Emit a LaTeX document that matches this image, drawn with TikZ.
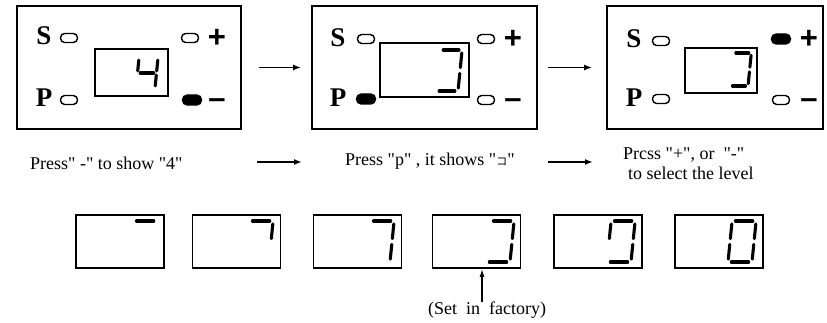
\documentclass[tikz,border=0pt]{standalone}
\usepackage{fontspec}
\setmainfont{Liberation Serif}[Ligatures=TeXOff]
\newfontfamily\sansb{Liberation Sans}
\newfontfamily\jpfont{Noto Sans CJK JP}
\usetikzlibrary{arrows.meta}
\tikzset{
  panel/.style={draw, line width=1.8pt, minimum height=123pt, inner sep=0pt},
  lcd/.style={draw, line width=1.4pt, inner sep=0pt},
  smallbox/.style={draw, line width=1.8pt, minimum width=88pt, minimum height=53pt, inner sep=0pt},
  led/.style={draw, line width=1.4pt, rounded corners=4.2pt, minimum width=17pt, minimum height=9pt, inner sep=0pt},
  ledon/.style={led, fill=black, minimum width=19pt, minimum height=10pt, rounded corners=4.8pt},
  seg/.style={line width=3.1pt, line cap=round},
  arr/.style={line width=1.7pt, -{Latex[length=8pt,width=6pt]}},
  sp/.style={font=\bfseries\fontsize{27}{27}\selectfont, inner sep=0pt},
  pm/.style={font=\sansb\bfseries\fontsize{31}{31}\selectfont, inner sep=0pt},
  captext/.style={font=\fontsize{18}{20}\selectfont, inner sep=0pt, anchor=west},
}
\newcommand\dgseg[4]{\draw[seg] ({\dX+(#1)*\dW+\dS*(#2)*\dH},{\dY-(#2)*\dH}) -- ({\dX+(#3)*\dW+\dS*(#4)*\dH},{\dY-(#4)*\dH});}
\def\gu{0.14}
\def\gv{0.07}
\newcommand\sgA{\dgseg{\gu}{1}{1-\gu}{1}}
\newcommand\sgB{\dgseg{1}{1-\gv}{1}{0.5+\gv}}
\newcommand\sgC{\dgseg{1}{0.5-\gv}{1}{\gv}}
\newcommand\sgD{\dgseg{\gu}{0}{1-\gu}{0}}
\newcommand\sgE{\dgseg{0}{0.5-\gv}{0}{\gv}}
\newcommand\sgF{\dgseg{0}{1-\gv}{0}{0.5+\gv}}
\newcommand\sgG{\dgseg{\gu}{0.5}{1-\gu}{0.5}}
% x(bottom-left) ybottom width height slant list
\newcommand\sevdigit[6]{%
  \def\dX{#1}\def\dY{#2}\def\dW{#3}\def\dH{#4}\def\dS{#5}%
  \foreach \sx in {#6}{\csname sg\sx\endcsname}}
\begin{document}
\begin{tikzpicture}[x=1pt,y=-1pt]
\useasboundingbox (0,0) rectangle (827,323);
% ---------- panel 1
\node[panel, minimum width=224pt] (p1) at (129,67.5) {};
\node[sp] (p1s) at (44,36) {S};
\node[sp] (p1p) at (44,98) {P};
\node[led] (p1ls) at (69,38) {};
\node[led] (p1lp) at (69,100) {};
\node[led] (p1lplus) at (190,38) {};
\node[ledon] (p1lminus) at (192,100) {};
\node[pm] (p1plus) at (217,38) {+};
\node[pm] (p1minus) at (217,104) {–};
\node[lcd, minimum width=73pt, minimum height=47pt] (p1d) at (131.5,72.5) {};
\sevdigit{136}{88}{19}{30}{0.1}{F,G,B,C}
% ---------- panel 2
\node[panel, minimum width=225pt] (p2) at (424.5,67.5) {};
\node[sp] (p2s) at (338,38) {S};
\node[sp] (p2p) at (338,98) {P};
\node[led] (p2ls) at (366,39) {};
\node[ledon] (p2lp) at (366,99) {};
\node[led] (p2lplus) at (486,39) {};
\node[led] (p2lminus) at (486,100) {};
\node[pm] (p2plus) at (513,39) {+};
\node[pm] (p2minus) at (513,104) {–};
\node[lcd, minimum width=89pt, minimum height=54pt] (p2d) at (424.5,70) {};
\sevdigit{436}{91}{22}{41}{0.1}{A,B,C,D}
% ---------- panel 3
\node[panel, minimum width=216pt] (p3) at (715,67.5) {};
\node[sp] (p3s) at (634,39) {S};
\node[sp] (p3p) at (634,98) {P};
\node[led] (p3ls) at (661,41) {};
\node[led] (p3lp) at (661,99) {};
\node[ledon] (p3lplus) at (781,39) {};
\node[led] (p3lminus) at (781,100) {};
\node[pm] (p3plus) at (809,39) {+};
\node[pm] (p3minus) at (809,104) {–};
\node[lcd, minimum width=72pt, minimum height=45pt] (p3d) at (721,70.5) {};
\sevdigit{730}{86}{18}{33}{0.1}{A,B,C,D}
% ---------- arrows between panels
\draw[arr, shorten <=17pt, shorten >=10pt] (p1.east) -- (p2.west);
\draw[arr, shorten <=10pt, shorten >=14pt] (p2.east) -- (p3.west);
% ---------- captions
\node[captext] (t1) at (30,163) {Press" -" to show "4"};
\node[captext] (t2) at (345,161) {Press "p" , it shows "{\jpfont\fontsize{11}{11}\selectfont コ}"};
\node[captext] (t3a) at (623,155) {Prcss "+", or\ \ "-"};
\node[captext] (t3b) at (628,173) {to select the level};
\coordinate (a1s) at (257,162);
\coordinate (a1e) at (302,162);
\coordinate (a2s) at (548,162);
\coordinate (a2e) at (593,162);
\draw[arr] (a1s) -- (a1e);
\draw[arr] (a2s) -- (a2e);
% ---------- bottom row
\node[smallbox] (b1) at (120,241.5) {};
\node[smallbox] (b2) at (236.5,241.5) {};
\node[smallbox] (b3) at (357.5,241.5) {};
\node[smallbox] (b4) at (476.5,241.5) {};
\node[smallbox] (b5) at (598,241.5) {};
\node[smallbox] (b6) at (719,241.5) {};
\sevdigit{129}{262}{24}{41}{0.1}{A}
\sevdigit{245}{262}{24}{41}{0.1}{A,B}
\sevdigit{366}{262}{24}{41}{0.1}{A,B,C}
\sevdigit{486}{262}{24}{41}{0.1}{A,B,C,D}
\sevdigit{607}{262}{24}{41}{0.1}{A,B,C,D,F}
\sevdigit{728}{262}{24}{41}{0.1}{A,B,C,D,E,F}
\node[font=\fontsize{18}{20}\selectfont, inner sep=0pt] (fac) at (487,310) {(Set\ \ in\ \ factory)};
\coordinate (fa) at (482,302);
\draw[line width=1.4pt, -{Latex[length=8pt,width=5pt]}] (fa) -- (fa |- b4.south);
\end{tikzpicture}
\end{document}
